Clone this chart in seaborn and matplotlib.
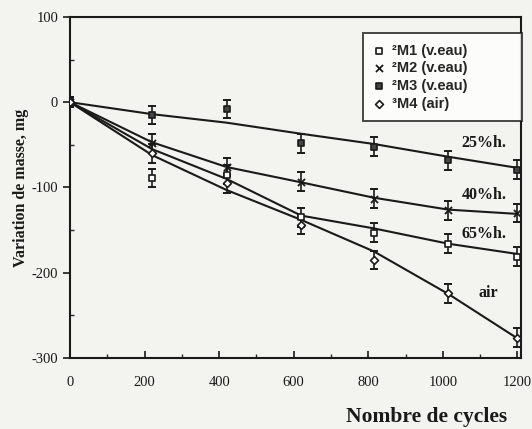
import matplotlib
matplotlib.use("Agg")
import matplotlib.pyplot as plt
import seaborn as sns
import pandas as pd
from matplotlib.ticker import MultipleLocator

# ---- data ----
cycles = [0, 220, 420, 620, 815, 1015, 1200]
m1_vals = [0, -89, -85, -135, -153, -166, -181]   # 65%h. (open squares)
m2_vals = [0, -48, -76, -93, -113, -127, -130]    # 40%h. (x)
m3_vals = [0, -15, -8, -48, -52, -68, -79]        # 25%h. (filled squares)
m4_vals = [0, -60, -95, -144, -185, -224, -276]   # air (diamonds)
err_vals = [6, 11, 11, 11, 11, 11, 11]

fit_25 = [0, -14, -24, -37, -49, -64, -77]
fit_40 = [0, -47, -76, -94, -112, -126, -131]
fit_65 = [0, -55, -90, -133, -148, -166, -178]
fit_air = [0, -62, -103, -138, -175, -225, -277]

series_labels = ["²M1 (v.eau)", "²M2 (v.eau)", "²M3 (v.eau)", "³M4 (air)"]
curve_labels = ["25%h.", "40%h.", "65%h.", "air"]
x_ticks = [0, 200, 400, 600, 800, 1000, 1200]
y_ticks = [-300, -200, -100, 0, 100]

sns.set_theme(style="ticks")
bg = "#f3f3f0"
plt.rcParams["font.family"] = ["Liberation Serif", "DejaVu Serif"]
plt.rcParams["axes.unicode_minus"] = False

fig = plt.figure(figsize=(5.32, 4.29), dpi=100, facecolor=bg)
ax = fig.add_axes([0.1316, 0.1655, 0.848, 0.795])
ax.set_facecolor(bg)

# fitted lines
fits = pd.DataFrame({"cycles": cycles * 4,
                     "val": fit_25 + fit_40 + fit_65 + fit_air,
                     "curve": sum([[c] * len(cycles) for c in curve_labels], [])})
sns.lineplot(data=fits, x="cycles", y="val", units="curve", estimator=None,
             color="#1a1a1a", lw=1.5, ax=ax, legend=False)

# error bars
for vals in (m1_vals, m2_vals, m3_vals, m4_vals):
    ax.errorbar(cycles, vals, yerr=err_vals, fmt="none", ecolor="#1a1a1a",
                elinewidth=1.2, capsize=3.2, capthick=1.4, zorder=3)

styles = [
    dict(marker="s", facecolor="white", edgecolor="#1a1a1a", s=22, linewidth=1.2),
    dict(marker="x", color="#1a1a1a", s=26, linewidth=1.3),
    dict(marker="s", facecolor="#444444", edgecolor="#1a1a1a", s=24, linewidth=1.2),
    dict(marker="D", facecolor="white", edgecolor="#1a1a1a", s=16, linewidth=1.2),
]
for vals, lab, st in zip((m1_vals, m2_vals, m3_vals, m4_vals), series_labels, styles):
    sns.scatterplot(x=cycles, y=vals, ax=ax, label=lab, zorder=4, **st)

# curve labels
label_pos = [(1050, -48), (1050, -109), (1050, -155), (1096, -224)]
for txt, (lx, ly) in zip(curve_labels, label_pos):
    ax.text(lx, ly, txt, fontsize=11.5, fontweight="bold", va="center", ha="left",
            color="#1a1a1a")

ax.set_xlim(0, 1210)
ax.set_ylim(-300, 100)
ax.set_xticks(x_ticks)
ax.set_yticks(y_ticks)
ax.xaxis.set_minor_locator(MultipleLocator(100))
ax.yaxis.set_minor_locator(MultipleLocator(50))
ax.tick_params(axis="x", which="major", direction="in", length=5, width=1.2,
               labelsize=10.5, colors="#1a1a1a", pad=13)
ax.tick_params(axis="x", which="minor", direction="in", length=3, width=1)
ax.tick_params(axis="y", which="major", direction="out", length=5, width=1.2,
               labelsize=10.5, colors="#1a1a1a")
ax.tick_params(axis="y", which="minor", direction="in", length=3, width=1)
for sp in ax.spines.values():
    sp.set_visible(True)
    sp.set_linewidth(1.5)
    sp.set_color("#1a1a1a")

ax.set_xlabel("Nombre de cycles", fontsize=15.5, fontweight="bold", color="#1a1a1a")
ax.xaxis.set_label_coords(0.79, -0.145)
ax.set_ylabel("Variation de masse, mg", fontsize=11.5, fontweight="bold",
              color="#1a1a1a", labelpad=2)

leg = ax.legend(loc="upper left", bbox_to_anchor=(0.65, 0.69, 0.352, 0.264),
                mode="expand", frameon=True,
                fancybox=False, edgecolor="#1a1a1a", facecolor="white",
                prop={"family": "Liberation Sans", "weight": "bold", "size": 10.5},
                handletextpad=0.65, handlelength=0.6, borderpad=0.75,
                labelspacing=0.25, borderaxespad=0.0)
leg.get_frame().set_linewidth(1.4)

fig.savefig("out.png", dpi=100, facecolor=bg)
